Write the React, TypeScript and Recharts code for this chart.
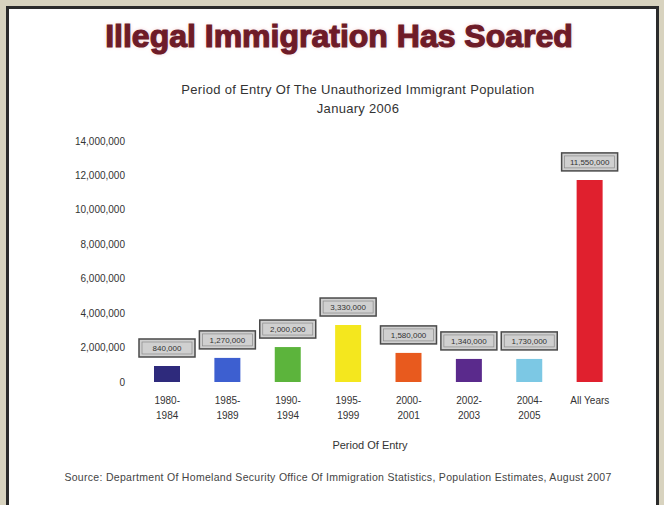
import React from "react";
import { BarChart, Bar, XAxis, YAxis, Cell, LabelList } from "recharts";

const periodStart = ["1980-", "1985-", "1990-", "1995-", "2000-", "2002-", "2004-", "All Years"];
const periodEnd = ["1984", "1989", "1994", "1999", "2001", "2003", "2005", ""];
const barValues = [930000, 1400000, 2030000, 3310000, 1690000, 1340000, 1340000, 11740000];
const valueLabels = ["840,000", "1,270,000", "2,000,000", "3,330,000", "1,580,000", "1,340,000", "1,730,000", "11,550,000"];
const barColors = ["#2e2a7c", "#3d5fd0", "#5cb43c", "#f4e71e", "#e85a1e", "#5a2a8c", "#7cc8e4", "#e0202e"];
const yTicks = [0, 2000000, 4000000, 6000000, 8000000, 10000000, 12000000, 14000000];

const data = periodStart.map((p, i) => ({
  period: p,
  end: periodEnd[i],
  value: barValues[i],
  label: valueLabels[i],
}));

const fmt = (v: number) => v.toLocaleString("en-US");
const FONT = "Liberation Sans, Arial, sans-serif";

const XTick = (props: any) => {
  const { x, y, payload, index } = props;
  const end = periodEnd[index] ?? "";
  return (
    <g transform={`translate(${x},${y})`}>
      <text x={0} y={0} dy={10} textAnchor="middle" fontSize={10} fill="#333" fontFamily={FONT}>
        {payload.value}
      </text>
      {end ? (
        <text x={0} y={0} dy={25} textAnchor="middle" fontSize={10} fill="#333" fontFamily={FONT}>
          {end}
        </text>
      ) : null}
    </g>
  );
};

const BoxLabel = (props: any) => {
  const { x, y, width, index } = props;
  const cx = x + width / 2;
  const w = 56;
  const h = 18;
  const top = y - 9 - h;
  return (
    <g>
      <rect x={cx - w / 2} y={top} width={w} height={h} fill="#d0d0d0" stroke="#4a4a4a" strokeWidth={1.5} />
      <rect x={cx - w / 2 + 3} y={top + 3} width={w - 6} height={h - 6} fill="none" stroke="#8a8a8a" strokeWidth={0.7} />
      <text x={cx} y={top + h / 2 + 3} textAnchor="middle" fontSize={8} fill="#333" fontFamily={FONT}>
        {valueLabels[index]}
      </text>
    </g>
  );
};

export default function App() {
  return (
    <div style={{ position: "absolute", left: 0, top: 0, width: 664, height: 505, background: "#d8d3bf", overflow: "hidden" }}>
      <div
        style={{
          position: "absolute",
          left: 6,
          top: 6,
          width: 647,
          height: 520,
          background: "#ffffff",
          border: "3px solid #2b2b2b",
        }}
      />
      <div
        style={{
          position: "absolute",
          left: 0,
          width: 678,
          top: 18,
          textAlign: "center",
          fontFamily: FONT,
          fontWeight: 700,
          fontSize: 32,
          color: "#6e1b28",
          WebkitTextStroke: "1.2px #6e1b28",
          textShadow: "0 0 4px #f3c6cc",
          whiteSpace: "nowrap",
        }}
      >
        Illegal Immigration Has Soared
      </div>
      <div
        style={{
          position: "absolute",
          left: 0,
          width: 716,
          top: 80,
          textAlign: "center",
          fontFamily: FONT,
          fontSize: 13,
          letterSpacing: 0.3,
          lineHeight: "19px",
          color: "#333",
        }}
      >
        Period of Entry Of The Unauthorized Immigrant Population
        <br />
        January 2006
      </div>
      <div style={{ position: "absolute", left: 0, top: 0 }}>
        <BarChart width={664} height={505} data={data} margin={{ top: 141, right: 44, bottom: 63, left: 0 }}>
          <YAxis
            width={137}
            domain={[0, 14000000]}
            ticks={yTicks}
            tickFormatter={fmt}
            axisLine={false}
            tickLine={false}
            tickSize={0}
            tickMargin={12}
            tick={{ fontSize: 10, fill: "#333", fontFamily: FONT }}
            interval={0}
          />
          <XAxis
            dataKey="period"
            height={60}
            axisLine={false}
            tickLine={false}
            tickSize={0}
            tickMargin={12}
            interval={0}
            tick={<XTick />}
          />
          <Bar dataKey="value" barSize={26} isAnimationActive={false}>
            {data.map((d, i) => (
              <Cell key={d.period} fill={barColors[i]} />
            ))}
            <LabelList dataKey="label" content={<BoxLabel />} />
          </Bar>
        </BarChart>
      </div>
      <div
        style={{
          position: "absolute",
          left: 320,
          width: 100,
          top: 439,
          textAlign: "center",
          fontFamily: FONT,
          fontSize: 11,
          color: "#333",
          whiteSpace: "nowrap",
        }}
      >
        Period Of Entry
      </div>
      <div
        style={{
          position: "absolute",
          left: 0,
          width: 676,
          top: 471,
          textAlign: "center",
          fontFamily: FONT,
          fontSize: 10.5,
          color: "#444",
          whiteSpace: "nowrap",
          letterSpacing: 0.3,
        }}
      >
        Source: Department Of Homeland Security Office Of Immigration Statistics, Population Estimates, August 2007
      </div>
    </div>
  );
}
